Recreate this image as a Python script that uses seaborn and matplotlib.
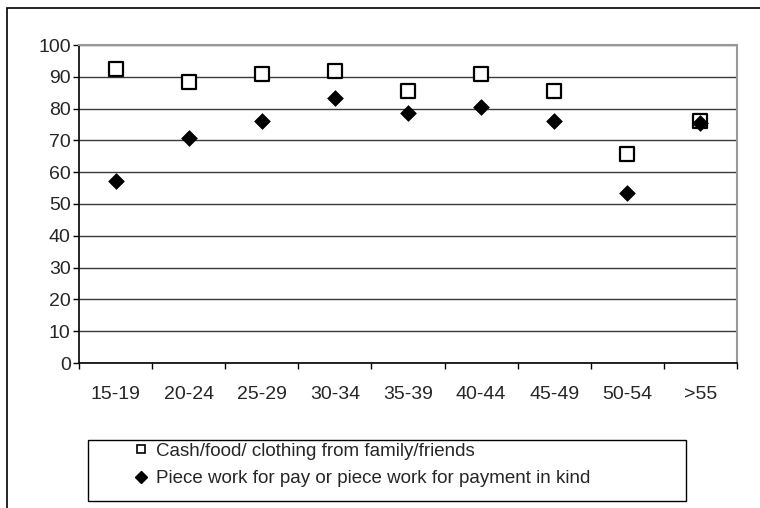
import matplotlib
matplotlib.use("Agg")
import matplotlib.pyplot as plt
from matplotlib.lines import Line2D
from matplotlib.patches import Rectangle
from matplotlib.ticker import FixedLocator
import seaborn as sns
import pandas as pd

age_groups = ["15-19", "20-24", "25-29", "30-34", "35-39", "40-44", "45-49", "50-54", ">55"]
cash_food_clothing = [92.4, 88.3, 90.8, 91.8, 85.4, 90.8, 85.4, 65.7, 76.0]
piece_work = [57.3, 70.8, 76.2, 83.2, 78.7, 80.4, 76.2, 53.6, 75.6]
series_labels = ["Cash/food/ clothing from family/friends",
                 "Piece work for pay or piece work for payment in kind"]
y_ticks = [0, 10, 20, 30, 40, 50, 60, 70, 80, 90, 100]

sns.set_style("white")
plt.rcParams["font.family"] = ["Liberation Sans", "DejaVu Sans"]

W, H = 760, 508
fig = plt.figure(figsize=(W / 100, H / 100), dpi=100)
ax = fig.add_axes([79 / W, 1 - 363 / H, (737 - 79) / W, (363 - 45) / H])

df = pd.DataFrame({"age": age_groups, "cash": cash_food_clothing, "piece": piece_work})

sns.scatterplot(data=df, x="age", y="cash", marker="s", s=100, facecolor="white",
                edgecolor="black", linewidth=1.6, ax=ax, zorder=3)
sns.scatterplot(data=df, x="age", y="piece", marker="D", s=64, color="black",
                edgecolor="black", linewidth=0.5, ax=ax, zorder=4)

ax.set_xlim(-0.5, len(age_groups) - 0.5)
ax.set_ylim(0, 100)
ax.set_yticks(y_ticks)
ax.set_xticks(range(len(age_groups)))
ax.set_xticklabels(age_groups)
ax.xaxis.set_minor_locator(FixedLocator([i - 0.5 for i in range(len(age_groups) + 1)]))
ax.set_xlabel("")
ax.set_ylabel("")

ax.yaxis.grid(True, color="#3a3a3a", linewidth=1.0)
ax.set_axisbelow(True)
for s in ["top", "right"]:
    ax.spines[s].set_color("#999999")
    ax.spines[s].set_linewidth(1.5)
for s in ["left", "bottom"]:
    ax.spines[s].set_color("black")
    ax.spines[s].set_linewidth(1.2)

ax.tick_params(axis="y", which="major", direction="out", length=4.5, width=1,
               color="black", labelsize=14, pad=1.5, left=True)
ax.tick_params(axis="x", which="major", length=0, labelsize=14, pad=16.5)
ax.tick_params(axis="x", which="minor", direction="out", length=4, width=1,
               color="black", bottom=True)

# outer chart frame
fig.patches.append(Rectangle((7 / W, -0.1), 1.2, 1 - 8 / H + 0.1, transform=fig.transFigure,
                             fill=False, edgecolor="black", linewidth=1.2))
# legend box
fig.patches.append(Rectangle((88 / W, 1 - 501 / H), (686 - 88) / W, (501 - 440) / H,
                             transform=fig.transFigure, fill=False,
                             edgecolor="black", linewidth=1.0))

handles = [
    Line2D([], [], linestyle="none", marker="s", markersize=6, markerfacecolor="white",
           markeredgecolor="black", markeredgewidth=1.2),
    Line2D([], [], linestyle="none", marker="D", markersize=6.5, markerfacecolor="black",
           markeredgecolor="black"),
]
fig.legend(handles, series_labels, loc="upper left",
           bbox_to_anchor=(130 / W, 1 - 439 / H), frameon=False, fontsize=13.5,
           handlelength=0.8, handletextpad=0.4, labelspacing=0.55, borderpad=0.2,
           borderaxespad=0)

fig.savefig("out.png", dpi=100)
